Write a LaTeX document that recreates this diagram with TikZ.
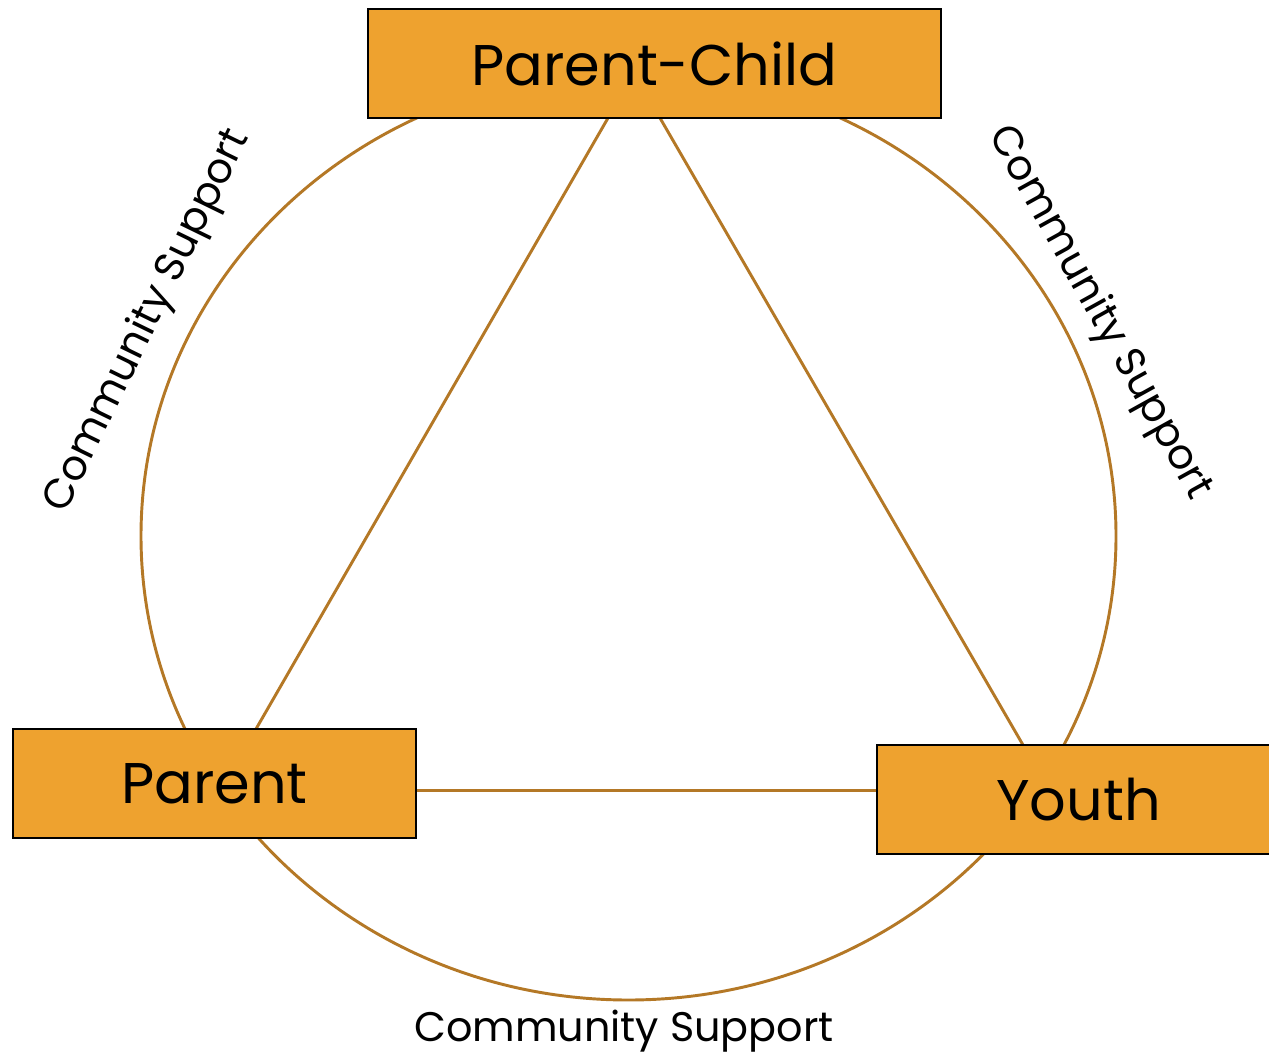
\documentclass[tikz,border=0pt]{standalone}
\usepackage{fontspec}
\setmainfont{Poppins}
\usetikzlibrary{backgrounds}
\definecolor{boxfill}{RGB}{238,162,47}
\definecolor{linkc}{RGB}{180,120,38}
\begin{document}
\begin{tikzpicture}[x=0.75pt,y=-0.75pt,
  rolebox/.style={draw=black,line width=1.5pt,fill=boxfill,rectangle,minimum height=81.75pt,inner sep=0pt,font=\fontsize{43}{48}\selectfont},
  link/.style={draw=linkc,line width=2.2pt},
  cslabel/.style={font=\fontsize{31}{36}\selectfont,inner sep=0pt}]
\useasboundingbox (0,0) rectangle (1269,1055);
\node[rolebox,minimum width=429.75pt] (pc) at (654.5,63.5) {Parent-Child};
\node[rolebox,minimum width=302.25pt] (par) at (214.5,783.5) {Parent};
\node[rolebox,minimum width=302.25pt] (you) at (1078.5,799.5) {Youth};
\coordinate (ctr) at (628.5,536);
\coordinate (pcl) at (608,118);
\coordinate (pcr) at (660,118);
\coordinate (part) at (256,729);
\coordinate (yout) at (1023,745);
\coordinate (hl) at ([yshift=-4.9pt]par.east);
\begin{scope}[on background layer]
\fill[white] (0,0) rectangle (1269,1055);
\draw[link] (ctr) ellipse [x radius=487.5, y radius=464];
\draw[link] (pcl) -- (part);
\draw[link] (pcr) -- (yout);
\draw[link] (hl) -- (you.west |- hl);
\end{scope}
\node[cslabel,rotate=64] (csl) at (148,321) {Community Support};
\node[cslabel,rotate=-61] (csr) at (1099,313) {Community Support};
\node[cslabel] (csb) at (624,1031) {Community Support};
\end{tikzpicture}
\end{document}
